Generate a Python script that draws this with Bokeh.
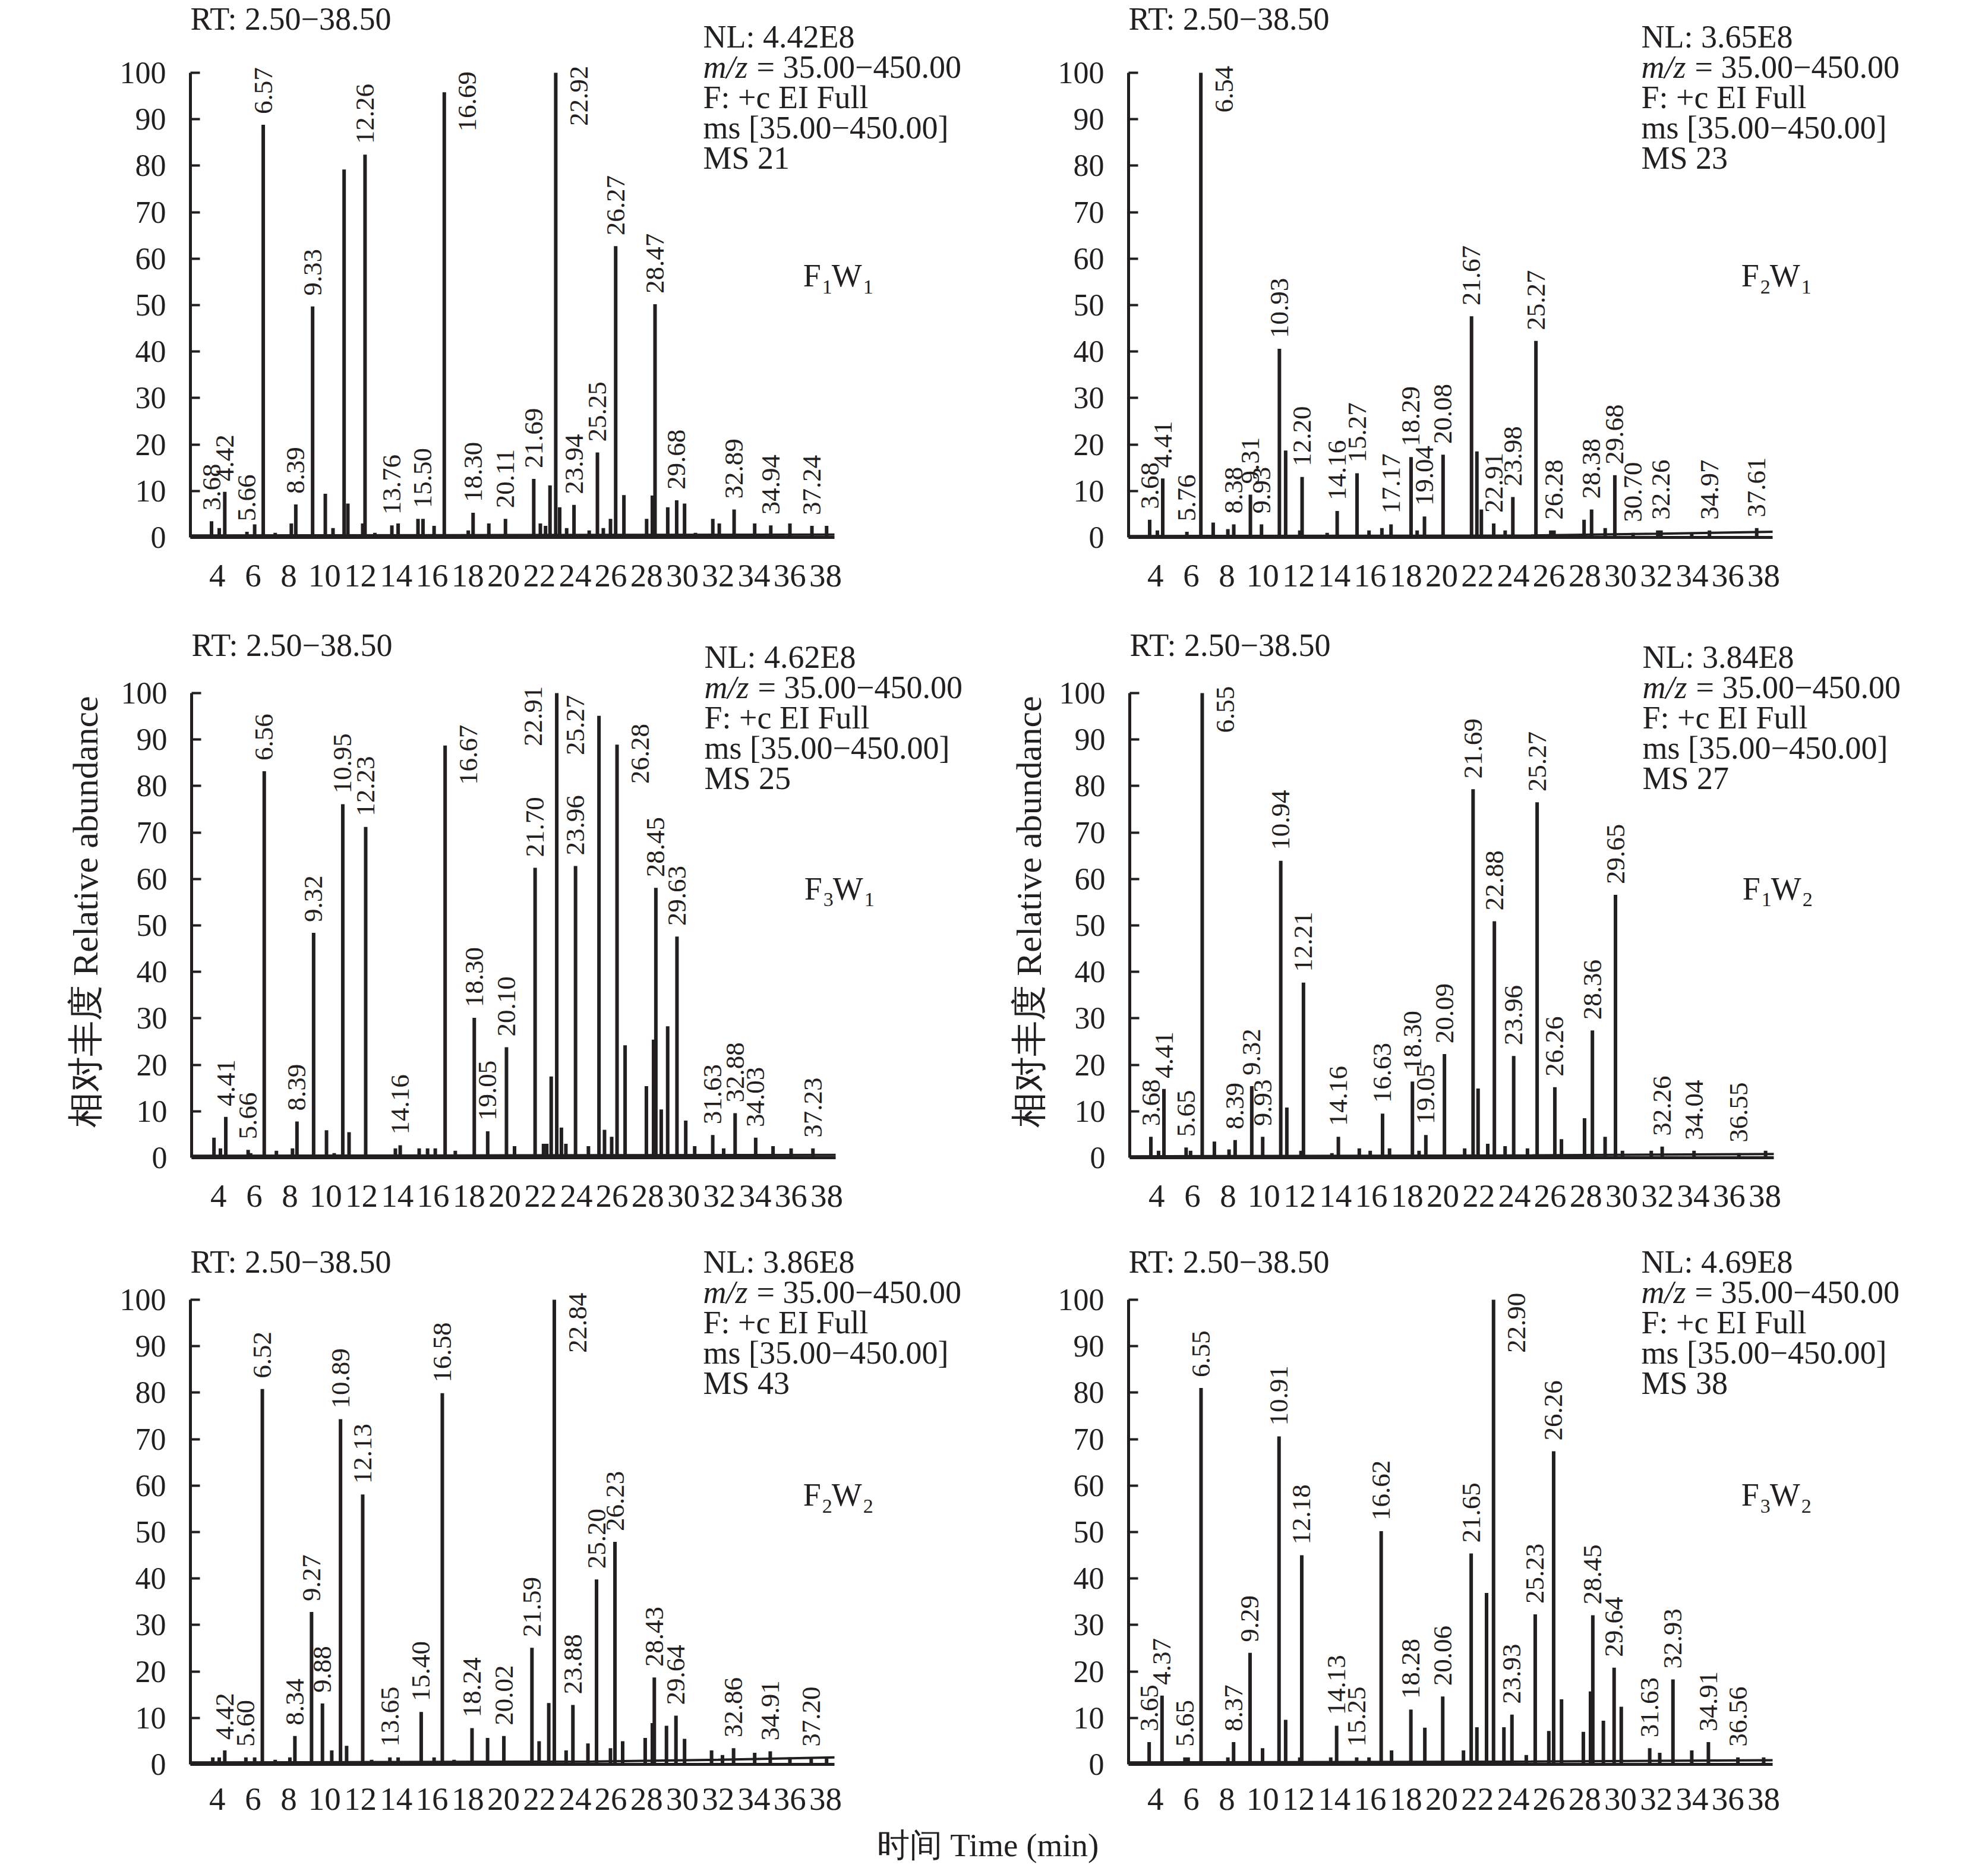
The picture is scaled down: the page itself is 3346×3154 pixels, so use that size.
import numpy as np
from bokeh.plotting import figure
from bokeh.models import Range1d, FixedTicker, Label, ColumnDataSource
from bokeh.layouts import column, row
from bokeh.embed import file_html
from bokeh.resources import INLINE
from bokeh.core.properties import value

INK = "#231f20"
SERIF = "Liberation Serif"

# ---------------- data ----------------
x_ticks = list(range(4, 39, 2))
y_ticks = list(range(0, 101, 10))
rt_start, rt_end = 2.5, 38.5

# F1W1
f1w1_rt = [3.68, 4.42, 5.66, 6.57, 8.39, 9.33, 12.26, 13.76, 15.50, 16.69, 18.30, 20.11,
           21.69, 22.92, 23.94, 25.25, 26.27, 28.47, 29.68, 32.89, 34.94, 37.24]
f1w1_h = [3.5, 9.8, 1.2, 88.8, 7.1, 49.7, 82.4, 2.6, 4.0, 95.8, 5.3, 4.0,
          12.6, 100.0, 7.0, 18.3, 62.7, 50.2, 8.0, 6.0, 2.6, 2.5]
f1w1_side = [0, 0, 0, 0, 0, 0, 0, 0, 0, 1, 0, 0, 0, 1, 0, 0, 0, 0, 0, 0, 0, 0]
f1w1_minor_rt = [4.11, 6.09, 7.24, 8.14, 10.04, 10.47, 11.09, 11.30, 12.13, 12.81, 14.11, 15.22,
                 16.12, 18.03, 19.18, 22.06, 22.35, 22.60, 23.14, 23.53, 24.79, 25.58, 25.98,
                 26.73, 28.00, 28.32, 29.18, 30.12, 30.73, 31.70, 32.06, 34.04, 36.01, 38.06]
f1w1_minor_h = [2.0, 2.8, 1.0, 3.0, 9.4, 2.0, 79.2, 7.3, 3.0, 1.0, 3.0, 4.0,
                2.5, 1.5, 3.0, 3.0, 2.5, 11.2, 6.5, 2.0, 1.5, 2.0, 4.0,
                9.1, 4.0, 9.0, 6.5, 7.3, 1.0, 4.0, 3.0, 3.0, 3.0, 2.5]
f1w1_base_rt = [2.5, 20.0, 38.5]
f1w1_base_h = [0.4, 0.5, 0.6]

# F2W1
f2w1_rt = [3.68, 4.41, 5.76, 6.54, 8.38, 9.31, 9.93, 10.93, 12.20, 14.16, 15.27, 17.17, 18.29,
           19.04, 20.08, 21.67, 22.91, 23.98, 25.27, 26.28, 28.38, 29.68, 30.70, 32.26, 34.97, 37.61]
f2w1_h = [3.8, 12.7, 1.2, 100.0, 2.8, 9.2, 2.8, 40.6, 13.0, 5.7, 13.8, 2.8, 17.3,
          4.5, 17.8, 47.6, 3.0, 8.7, 42.3, 1.5, 6.0, 13.4, 1.0, 1.5, 1.5, 2.0]
f2w1_side = [0, 0, 0, 1] + [0] * 22
f2w1_minor_rt = [4.11, 7.23, 8.05, 11.28, 12.07, 13.60, 15.94, 16.66, 18.63, 21.97, 22.22,
                 23.55, 26.10, 27.96, 29.14, 32.08, 33.98]
f2w1_minor_h = [1.5, 3.2, 1.8, 18.7, 1.5, 1.0, 1.5, 2.0, 1.5, 18.5, 6.0,
                1.5, 1.5, 3.8, 2.0, 1.5, 1.0]
f2w1_base_rt = [2.5, 25.0, 32.0, 38.5]
f2w1_base_h = [0.3, 0.4, 0.8, 1.2]

# F3W1
f3w1_rt = [4.41, 5.66, 6.56, 8.39, 9.32, 10.95, 12.23, 14.16, 16.67, 18.30, 19.05, 20.10,
           21.70, 22.91, 23.96, 25.27, 26.28, 28.45, 29.63, 31.63, 32.88, 34.03, 37.23]
f3w1_h = [8.8, 1.7, 83.2, 7.8, 48.4, 76.1, 71.2, 2.7, 88.7, 30.1, 5.7, 23.8,
          62.4, 100.0, 62.8, 95.1, 88.9, 58.1, 47.6, 4.9, 9.6, 4.3, 2.0]
f3w1_side = [0, 0, 0, 0, 0, 0, 0, 0, 1, 0, 0, 0, 0, -1, 0, -1, 1, 0, 0, 0, 0, 0, 0]
f3w1_minor_rt = [3.75, 4.11, 5.80, 7.24, 8.14, 10.04, 10.47, 11.30, 13.89, 15.22, 15.69, 16.12,
                 17.24, 20.55, 22.17, 22.35, 22.60, 23.17, 23.42, 24.68, 25.58, 25.98, 26.73,
                 27.92, 28.32, 28.75, 29.11, 30.12, 30.62, 32.24, 35.00, 36.01]
f3w1_minor_h = [4.3, 2.0, 1.0, 1.5, 2.0, 5.9, 1.0, 5.5, 2.0, 2.0, 2.0, 2.0,
                1.5, 2.5, 3.0, 3.0, 17.5, 6.5, 3.0, 2.5, 6.0, 4.5, 24.2,
                15.4, 25.4, 10.4, 28.3, 8.0, 2.5, 2.0, 2.5, 2.0]
f3w1_base_rt = [2.5, 20.0, 38.5]
f3w1_base_h = [0.4, 0.5, 0.6]

# F1W2
f1w2_rt = [3.68, 4.41, 5.65, 6.55, 8.39, 9.32, 9.93, 10.94, 12.21, 14.16, 16.63, 18.30,
           19.05, 20.09, 21.69, 22.88, 23.96, 25.27, 26.26, 28.36, 29.65, 32.26, 34.04, 36.55]
f1w2_h = [4.5, 14.8, 2.2, 100.0, 3.8, 15.4, 4.5, 63.9, 37.7, 4.5, 9.5, 16.4,
          4.9, 22.3, 79.3, 50.9, 21.9, 76.5, 15.2, 27.4, 56.6, 2.4, 1.5, 1.0]
f1w2_side = [0, 0, 0, 1] + [0] * 20
f1w2_minor_rt = [4.11, 5.90, 7.23, 8.05, 11.28, 12.07, 13.80, 15.33, 15.94, 17.02, 18.67,
                 21.22, 21.97, 22.51, 23.48, 24.73, 26.63, 27.92, 29.07, 30.04, 31.65, 38.04]
f1w2_minor_h = [1.5, 1.5, 3.5, 1.8, 10.8, 1.5, 1.0, 2.0, 1.5, 2.0, 1.5,
                2.0, 14.9, 3.0, 2.5, 2.0, 4.0, 8.5, 4.5, 1.5, 1.5, 1.5]
f1w2_base_rt = [2.5, 25.0, 38.5]
f1w2_base_h = [0.3, 0.5, 0.8]

# F2W2
f2w2_rt = [4.42, 5.60, 6.52, 8.34, 9.27, 9.88, 10.89, 12.13, 13.65, 15.40, 16.58, 18.24,
           20.02, 21.59, 22.84, 23.88, 25.20, 26.23, 28.43, 29.64, 32.86, 34.91, 37.20]
f2w2_h = [3.0, 1.5, 80.8, 6.1, 32.8, 13.1, 74.3, 58.1, 1.5, 11.3, 79.9, 7.8,
          6.1, 25.1, 100.0, 12.8, 39.8, 47.9, 18.7, 10.5, 3.5, 2.8, 1.5]
f2w2_side = [0] * 14 + [1] + [0] * 8
f2w2_minor_rt = [3.75, 4.11, 6.09, 7.24, 8.06, 10.40, 11.23, 12.63, 14.11, 16.12, 17.24,
                 19.11, 21.99, 22.53, 23.50, 24.72, 25.98, 26.66, 27.92, 28.32, 29.11,
                 30.12, 31.63, 32.24, 34.04, 36.01, 38.06]
f2w2_minor_h = [1.5, 1.5, 1.5, 1.0, 1.5, 3.0, 4.0, 1.0, 1.5, 1.5, 1.0,
                5.7, 5.0, 13.2, 3.0, 4.5, 3.5, 5.0, 5.7, 8.9, 8.3,
                5.5, 3.0, 2.0, 2.5, 1.5, 1.5]
f2w2_base_rt = [2.5, 25.0, 32.0, 38.5]
f2w2_base_h = [0.4, 0.6, 1.0, 1.5]

# F3W2
f3w2_rt = [3.65, 4.37, 5.65, 6.55, 8.37, 9.29, 10.91, 12.18, 14.13, 15.25, 16.62, 18.28,
           20.06, 21.65, 22.90, 23.93, 25.23, 26.26, 28.45, 29.64, 31.63, 32.93, 34.91, 36.56]
f3w2_h = [4.8, 14.8, 1.5, 81.0, 4.8, 24.0, 70.6, 45.0, 8.3, 1.5, 50.2, 11.8,
          14.6, 45.4, 100.0, 10.7, 32.3, 67.4, 32.1, 20.8, 3.5, 18.3, 4.8, 1.5]
f3w2_side = [0] * 14 + [1] + [0] * 9
f3w2_minor_rt = [5.83, 8.05, 9.99, 11.28, 12.07, 13.80, 15.94, 17.20, 19.06, 21.22, 21.97,
                 22.51, 23.48, 24.73, 25.99, 26.70, 27.92, 28.32, 29.04, 30.04, 32.19,
                 33.98, 38.00]
f3w2_minor_h = [1.5, 1.5, 3.5, 9.6, 1.5, 1.5, 1.5, 3.0, 7.9, 3.0, 8.0,
                36.9, 8.0, 2.0, 7.2, 14.0, 7.0, 15.7, 9.4, 12.4, 2.5,
                3.0, 1.5]
f3w2_base_rt = [2.5, 25.0, 38.5]
f3w2_base_h = [0.4, 0.6, 0.9]

panel_names = [("F", "1", "W", "1"), ("F", "2", "W", "1"), ("F", "3", "W", "1"),
               ("F", "1", "W", "2"), ("F", "2", "W", "2"), ("F", "3", "W", "2")]
panel_nl = ["4.42E8", "3.65E8", "4.62E8", "3.84E8", "3.86E8", "4.69E8"]
panel_ms = ["21", "23", "25", "27", "43", "38"]
y_title = "相对丰度 Relative abundance"
x_title = "时间 Time (min)"

panels = [
    (f1w1_rt, f1w1_h, f1w1_side, f1w1_minor_rt, f1w1_minor_h, f1w1_base_rt, f1w1_base_h),
    (f2w1_rt, f2w1_h, f2w1_side, f2w1_minor_rt, f2w1_minor_h, f2w1_base_rt, f2w1_base_h),
    (f3w1_rt, f3w1_h, f3w1_side, f3w1_minor_rt, f3w1_minor_h, f3w1_base_rt, f3w1_base_h),
    (f1w2_rt, f1w2_h, f1w2_side, f1w2_minor_rt, f1w2_minor_h, f1w2_base_rt, f1w2_base_h),
    (f2w2_rt, f2w2_h, f2w2_side, f2w2_minor_rt, f2w2_minor_h, f2w2_base_rt, f2w2_base_h),
    (f3w2_rt, f3w2_h, f3w2_side, f3w2_minor_rt, f3w2_minor_h, f3w2_base_rt, f3w2_base_h),
]

# ---------------- layout (pixels) ----------------
PX_X = 1084 / 36.0          # pixels per minute
PX_Y = 7.82                 # pixels per % abundance
TOTAL_W = 3310
col_frame_w = [1340, 1411]  # frame runs to the right edge of each figure
row_top = [122, 142, 119]   # pixels from figure top to the 100 % line
row_bottom = [120, 120, 104]
x_standoff = [46, 46, 40]
rt_offset = [73, 63, 46]
nl_offset = [43, 43, 46]
name_y = [54.0, 55.6, 55.7]
BIAS = 0.33                 # baseline correction, in em


def make_panel(idx, left_border):
    rts, hs, sides, mrt, mh, brt, bh = panels[idx]
    r, c = divmod(idx, 2)
    fw = col_frame_w[c]
    fh = row_top[r] + int(round(100 * PX_Y))
    p = figure(frame_width=fw, frame_height=fh,
               x_range=Range1d(rt_start, rt_start + fw / PX_X),
               y_range=Range1d(0, fh / PX_Y),
               min_border_left=left_border, min_border_right=0,
               min_border_top=0, min_border_bottom=row_bottom[r],
               toolbar_location=None, output_backend="svg")
    p.outline_line_color = None
    p.grid.visible = False
    p.background_fill_color = "white"
    p.border_fill_color = "white"

    # axes
    p.xaxis.ticker = FixedTicker(ticks=x_ticks)
    p.xaxis.bounds = (rt_start, rt_end)
    p.xaxis.major_tick_in = 0
    p.xaxis.major_tick_out = 0
    p.xaxis.minor_tick_in = 0
    p.xaxis.minor_tick_out = 0
    p.xaxis.major_label_standoff = x_standoff[r]
    p.xaxis.major_label_text_font_size = "55px"
    p.yaxis.ticker = FixedTicker(ticks=y_ticks)
    p.yaxis.bounds = (0, 100)
    p.yaxis.major_tick_in = 16
    p.yaxis.major_tick_out = 0
    p.yaxis.minor_tick_in = 0
    p.yaxis.minor_tick_out = 0
    p.yaxis.major_label_standoff = 41
    p.yaxis.major_label_text_font_size = "52px"
    for ax in (p.xaxis, p.yaxis):
        ax.axis_line_width = 5
        ax.axis_line_color = INK
        ax.major_tick_line_width = 4
        ax.major_tick_line_color = INK
        ax.major_label_text_font = SERIF
        ax.major_label_text_color = INK

    # baseline and peaks
    p.line(brt, bh, line_width=4, line_color=INK)
    all_rt = list(rts) + list(mrt)
    all_h = list(hs) + list(mh)
    src = ColumnDataSource(dict(rt=all_rt, h=all_h, z=[0] * len(all_rt)))
    p.segment(x0="rt", y0="z", x1="rt", y1="h", source=src, line_width=6, line_color=INK)

    # peak labels
    above = dict(x=[], y=[], t=[])
    beside = dict(x=[], y=[], t=[])
    for rt, h, s in zip(rts, hs, sides):
        lab_t = f"{rt:.2f}"
        if s == 0:
            above["x"].append(rt)
            above["y"].append(h + 2.3)
            above["t"].append(lab_t)
        else:
            beside["x"].append(rt + s * 1.3)
            beside["y"].append(min(h + 4.5, 101.5))
            beside["t"].append(lab_t)
    common = dict(text="t", angle=np.pi / 2, text_font=value(SERIF), text_font_size="45px",
                  text_baseline="middle", text_color=INK)
    p.text(x="x", y="y", source=ColumnDataSource(above), text_align="left", **common)
    if beside["x"]:
        p.text(x="x", y="y", source=ColumnDataSource(beside), text_align="right", **common)

    # header texts
    def lab(x, y, text, size=54, style="normal", xo=0, yo=0):
        p.add_layout(Label(x=x, y=y, text=text, x_offset=xo, y_offset=yo + BIAS * size,
                           text_font=SERIF, text_font_size=f"{size}px", text_font_style=style,
                           text_color=INK, text_align="left", text_baseline="alphabetic"))

    lab(rt_start, 100, "RT: 2.50\u221238.50", yo=rt_offset[r])
    nx = 31.16
    o = nl_offset[r]
    lab(nx, 100, "NL: " + panel_nl[idx], yo=o)
    lab(nx, 100, "m/z", style="italic", yo=o - 51)
    lab(nx, 100, "= 35.00\u2212450.00", xo=90, yo=o - 51)
    lab(nx, 100, "F: +c EI Full", yo=o - 102)
    lab(nx, 100, "ms [35.00\u2212450.00]", yo=o - 153)
    lab(nx, 100, "MS " + panel_ms[idx], yo=o - 204)

    a, s1, b, s2 = panel_names[idx]
    sx = 36.75
    lab(sx, name_y[r], a)
    lab(sx, name_y[r], s1, size=34, xo=32, yo=-12)
    lab(sx, name_y[r], b, xo=48)
    lab(sx, name_y[r], s2, size=34, xo=101, yo=-12)
    return p


def text_strip(w, h, x, y, text, size, angle=0.0, align="center", baseline="middle"):
    f = figure(frame_width=w, frame_height=h, x_range=Range1d(0, w), y_range=Range1d(0, h),
               min_border=0, toolbar_location=None, output_backend="svg",
               x_axis_type=None, y_axis_type=None)
    f.outline_line_color = None
    f.grid.visible = False
    f.background_fill_color = "white"
    f.border_fill_color = "white"
    f.add_layout(Label(x=x, y=y, text=text, text_font=SERIF, text_font_size=f"{size}px",
                       text_color=INK, text_align=align, text_baseline=baseline, angle=angle))
    return f


# row 1
p1 = make_panel(0, 320)
p2 = make_panel(1, 239)
# row 2 : y-axis titles in their own strips
ROW2_H = row_top[1] + 782 + row_bottom[1]
t_left = text_strip(200, ROW2_H, 143, 534, y_title, 60, angle=np.pi / 2)
p3 = make_panel(2, 120)
t_right = text_strip(115, ROW2_H, 69, 534, y_title, 60, angle=np.pi / 2)
p4 = make_panel(3, 124)
# row 3
p5 = make_panel(4, 320)
p6 = make_panel(5, 239)
# x-axis title strip
XL_H = 65
xl = text_strip(TOTAL_W, XL_H, 1662, 33, x_title, 55, baseline="middle")

layout = column(row(p1, p2), row(t_left, p3, t_right, p4), row(p5, p6), xl)
open("out.html", "w").write(file_html(layout, INLINE))
